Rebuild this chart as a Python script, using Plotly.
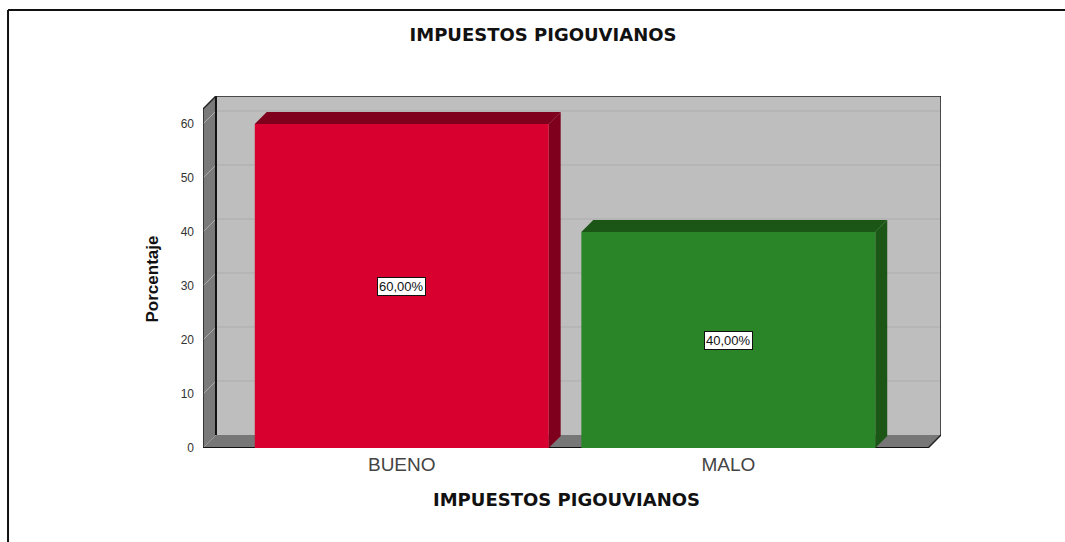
"""
bar chart with a fake 3d box look (impuestos pigouvianos)
"""

import plotly.graph_objects as go

categories = ['BUENO', 'MALO']
values = [60, 40]
value_labels = ['60,00%', '40,00%']
front_colors = ['#D8002F', '#2A8529']
side_colors = ['#7E001D', '#1B5616']
y_ticks = [0, 10, 20, 30, 40, 50, 60]

chart_title = 'IMPUESTOS PIGOUVIANOS'
y_title = 'Porcentaje'

# pixel scale of the axes
px_per_cat = 327
px_per_pct = 5.4
depth_x = 13 / px_per_cat
depth_y = 13 / px_per_pct
bar_depth_x = 12 / px_per_cat
bar_depth_y = 12 / px_per_pct
bar_width = 0.9

x_min = -0.6086
x_front = 1.6116
x_max = x_front + depth_x
y_max = 65.19
y_front_top = y_max - depth_y


def polygon(points, color):
    path = 'M ' + ' L '.join(f'{x} {y}' for x, y in points) + ' Z'
    return dict(type='path', path=path, xref='x', yref='y', layer='below',
                fillcolor=color, line=dict(width=0))


def segment(x0, y0, x1, y1, color, width):
    return dict(type='line', x0=x0, y0=y0, x1=x1, y1=y1, xref='x', yref='y',
                layer='below', line=dict(color=color, width=width))


shapes = []

# walls and floor
shapes.append(polygon([(x_min + depth_x, depth_y), (x_max, depth_y), (x_max, y_max), (x_min + depth_x, y_max)], '#BEBEBE'))
shapes.append(polygon([(x_min, 0), (x_min + depth_x, depth_y), (x_min + depth_x, y_max), (x_min, y_front_top)], '#7A7A7A'))
shapes.append(polygon([(x_min, 0), (x_front, 0), (x_max, depth_y), (x_min + depth_x, depth_y)], '#777777'))

# gridlines run across the left wall and the back wall
for t in y_ticks[1:]:
    shapes.append(segment(x_min, t, x_min + depth_x, t + depth_y, '#ADADAD', 1))
    shapes.append(segment(x_min + depth_x, t + depth_y, x_max, t + depth_y, '#ADADAD', 1))

# box outline
shapes.append(segment(x_min + depth_x, depth_y, x_min + depth_x, y_max, '#111111', 2))
shapes.append(segment(x_min + depth_x, y_max, x_max, y_max, '#222222', 1.5))
shapes.append(segment(x_max, y_max, x_max, depth_y, '#222222', 1.5))
shapes.append(segment(x_max, depth_y, x_front, 0, '#222222', 1.5))
shapes.append(segment(x_min, 0, x_front, 0, '#111111', 2))
shapes.append(segment(x_min, 0, x_min, y_front_top, '#222222', 1.5))
shapes.append(segment(x_min, y_front_top, x_min + depth_x, y_max, '#222222', 1.5))

# top and side of each bar
for i, v in enumerate(values):
    left = i - bar_width / 2
    right = i + bar_width / 2
    shapes.append(polygon([(left, v), (left + bar_depth_x, v + bar_depth_y), (right + bar_depth_x, v + bar_depth_y), (right, v)], side_colors[i]))
    shapes.append(polygon([(right, 0), (right, v), (right + bar_depth_x, v + bar_depth_y), (right + bar_depth_x, bar_depth_y)], side_colors[i]))

# outer frame, only left and top are visible
frame_x = -0.2642
frame_y = 1.2443
shapes.append(dict(type='line', xref='paper', yref='paper', x0=frame_x, x1=1.17, y0=frame_y, y1=frame_y,
                   line=dict(color='#111111', width=2)))
shapes.append(dict(type='line', xref='paper', yref='paper', x0=frame_x, x1=frame_x, y0=-0.3, y1=frame_y,
                   line=dict(color='#111111', width=2)))

fig = go.Figure()
fig.add_trace(go.Bar(x=categories, y=values, width=bar_width,
                     marker=dict(color=front_colors, line=dict(width=0)),
                     showlegend=False))

for c, v, lab in zip(categories, values, value_labels):
    fig.add_annotation(x=c, y=v / 2, text=lab, showarrow=False,
                       font=dict(family='Liberation Sans', size=13, color='#111111'),
                       bgcolor='white', bordercolor='#111111', borderwidth=1, borderpad=1)

title_font = dict(family='DejaVu Sans', size=18, color='#111111')

# axis titles are off the plot centre in the original, so they are placed by hand
fig.add_annotation(xref='paper', yref='paper', x=-0.0678, y=0.4815, text='<b>' + y_title + '</b>',
                   textangle=-90, showarrow=False, xanchor='center', yanchor='middle',
                   font=dict(size=17, color='#111111'))
fig.add_annotation(xref='paper', yref='paper', x=0.4919, y=-0.145, text='<b>' + chart_title + '</b>',
                   showarrow=False, xanchor='center', yanchor='middle', font=title_font)

fig.update_layout(
    width=1065, height=542, autosize=False,
    margin=dict(l=203, r=124, t=96, b=94),
    paper_bgcolor='white', plot_bgcolor='white',
    font=dict(family='Liberation Sans'),
    shapes=shapes,
    title=dict(text='<b>' + chart_title + '</b>', x=543 / 1065, xanchor='center',
               y=1 - 35 / 542, yanchor='middle', font=title_font),
    xaxis=dict(type='category', range=[x_min, x_max], showgrid=False, showline=False,
               zeroline=False, ticks='', ticklabelstandoff=3,
               tickfont=dict(size=19, color='#444444')),
    yaxis=dict(range=[0, y_max], tickvals=y_ticks, showgrid=False, showline=False,
               zeroline=False, ticks='', ticklabelstandoff=8,
               tickfont=dict(size=12, color='#333333')),
)

# the page's default body margin would push the figure off by 8px
fig.write_html("out.html", post_script="document.body.style.margin='0';",
               config=dict(displayModeBar=False))
